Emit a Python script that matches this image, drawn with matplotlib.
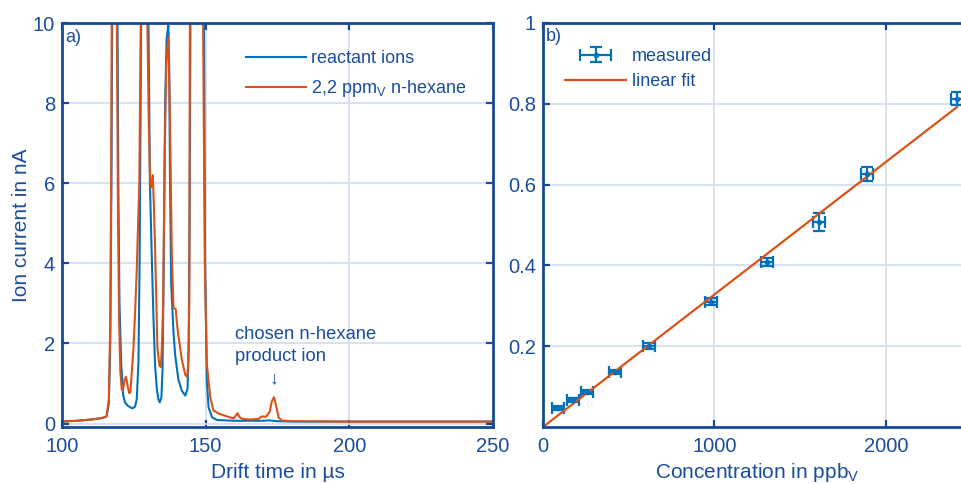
import matplotlib
matplotlib.use('Agg')
import matplotlib.pyplot as plt
from matplotlib.container import ErrorbarContainer
from matplotlib.legend_handler import HandlerErrorbar

plt.rcParams['font.family'] = ['Liberation Sans', 'DejaVu Sans']
plt.rcParams['mathtext.fontset'] = 'custom'
plt.rcParams['mathtext.rm'] = 'Liberation Sans'
plt.rcParams['mathtext.it'] = 'Liberation Sans:italic'

# ---- data: a) drift spectra ----
t_blue = [100, 105, 110, 114, 115.5, 116.3, 116.8, 117.2, 117.5, 118.2, 119.2, 119.6,
          120.0, 120.6, 121.3, 122.0, 123.0, 124.5, 125.4, 126.0, 126.6, 127.0, 127.6,
          128.8, 130.1, 130.6, 131.2, 131.8, 132.4, 133.0, 133.5, 134.0, 134.6, 135.0,
          135.4, 135.9, 136.4, 137.0, 137.3, 137.6, 138.0, 138.8, 139.4, 140.5, 141.7,
          142.9, 143.7, 144.1, 144.4, 144.7, 146.8, 149.4, 149.8, 150.4, 151.0, 152.2,
          153.9, 160, 170, 172, 175, 180, 200, 250]
i_blue = [0.05, 0.07, 0.10, 0.14, 0.18, 0.5, 2.0, 6.0, 10.5, 25, 12, 6.0,
          3.0, 1.5, 0.7, 0.52, 0.44, 0.38, 0.42, 0.6, 1.5, 4.0, 10.5,
          30, 10, 6.0, 4.3, 2.7, 1.44, 0.87, 0.62, 0.53, 0.65, 1.4,
          4.0, 8.0, 9.6, 9.95, 9.0, 6.0, 3.5, 2.27, 1.7, 1.1, 0.82,
          0.7, 0.87, 2.0, 5.0, 10, 40, 10, 4.0, 1.07, 0.41, 0.16,
          0.09, 0.07, 0.07, 0.08, 0.06, 0.05, 0.05, 0.05]

t_orange = [100, 105, 110, 114, 115.5, 116.3, 116.8, 117.1, 117.3, 118.2, 119.1, 119.5,
            119.9, 120.3, 120.8, 121.2, 121.8, 122.3, 122.8, 123.4, 123.8, 124.3, 124.8,
            125.4, 126.0, 126.9, 127.4, 128.6, 129.7, 130.2, 130.6, 131.0, 131.3, 131.6,
            132.0, 132.4, 133.2, 133.9, 134.4, 134.8, 135.2, 135.7, 136.3, 137.0, 137.5,
            138.2, 138.8, 139.6, 140.0, 140.5, 141.7, 142.9, 143.6, 144.0, 144.3, 144.5,
            146.8, 149.1, 149.7, 150.4, 151.6, 152.7, 154.5, 157.4, 159.7, 160.5, 161.1,
            161.7, 162.6, 165.5, 168.4, 169.6, 171.0, 172.3, 173.0, 173.8, 174.5, 175.4,
            176.5, 180, 200, 250]
i_orange = [0.05, 0.07, 0.10, 0.14, 0.18, 0.6, 2.5, 6.0, 10, 25, 10, 5.0,
            2.5, 1.3, 0.85, 0.82, 1.1, 1.17, 0.95, 0.76, 0.78, 1.3, 1.8,
            2.7, 3.8, 6.0, 10, 30, 10, 7.5, 6.2, 5.9, 5.9, 6.2,
            5.4, 4.4, 1.9, 1.45, 1.41, 2.0, 3.0, 6.5, 9.0, 9.66, 8.0,
            4.3, 2.9, 2.85, 2.5, 2.2, 1.6, 1.22, 1.16, 1.6, 3.0, 10,
            40, 10, 4.0, 1.5, 0.66, 0.33, 0.25, 0.18, 0.13, 0.2, 0.26,
            0.17, 0.12, 0.10, 0.12, 0.18, 0.17, 0.3, 0.55, 0.66, 0.45, 0.15,
            0.08, 0.06, 0.05, 0.05]

# ---- data: b) calibration ----
conc = [87, 175, 257, 420, 618, 980, 1306, 1609, 1889, 2414]
current = [0.047, 0.067, 0.087, 0.136, 0.200, 0.310, 0.408, 0.507, 0.626, 0.812]
conc_err = [35, 35, 35, 36, 36, 37, 36, 36, 36, 35]
current_err = [0.004, 0.005, 0.005, 0.006, 0.007, 0.009, 0.010, 0.022, 0.018, 0.016]
fit_x = [0, 2414]
fit_y = [0, 0.792]

txt = '#1a4e9c'
spine = '#174a96'
blue = '#0072BD'
orange = '#D95319'
gridc = '#d3dfee'

fig = plt.figure(figsize=(9.62, 4.84), dpi=100)
ax1 = fig.add_axes([62/962, 57/484, 431/962, 404/484])
ax2 = fig.add_axes([543/962, 57/484, 428.75/962, 404/484])

for ax in (ax1, ax2):
    ax.set_axisbelow(True)
    ax.grid(True, color=gridc, lw=1.3)
    for s in ax.spines.values():
        s.set_color(spine)
        s.set_linewidth(2)
    ax.tick_params(direction='in', top=True, right=True, length=5, width=1.6,
                   color=spine, labelcolor=txt, labelsize=14.5, pad=5)
    ax.tick_params(axis='x', pad=7)

# a)
ax1.plot(t_blue, i_blue, color=blue, lw=1.5, label='reactant ions')
ax1.plot(t_orange, i_orange, color=orange, lw=1.5, label=r'2,2 ppm$_\mathrm{V}$ n-hexane')
ax1.set_xlim(100, 250)
ax1.set_ylim(-0.085, 10)
ax1.set_xticks([100, 150, 200, 250])
ax1.set_yticks([0, 2, 4, 6, 8, 10])
ax1.set_xlabel('Drift time in µs', color=txt, fontsize=15, labelpad=5)
ax1.set_ylabel('Ion current in nA', color=txt, fontsize=15, labelpad=1)
ax1.text(0.008, 0.985, 'a)', transform=ax1.transAxes, color=txt, fontsize=13,
         ha='left', va='top')
ax1.text(160.2, 1.95, 'chosen n-hexane\nproduct ion', color=txt, fontsize=13.2,
         ha='left', va='center', linespacing=1.35)
ax1.text(173.7, 1.12, '↓', color=txt, fontsize=13, ha='center', va='center')
ax1.legend(loc='upper left', bbox_to_anchor=((246-62)/431, (427-50)/404),
           frameon=False, fontsize=13, labelcolor=txt, handlelength=3.3,
           handletextpad=0.3, labelspacing=0.62, borderpad=0, borderaxespad=0)

# b)
eb = ax2.errorbar(conc, current, xerr=conc_err, yerr=current_err, fmt='.', color=blue,
                  ms=6, elinewidth=1.6, capsize=4.5, capthick=1.6)
fit, = ax2.plot(fit_x, fit_y, color=orange, lw=1.6)
ax2.set_xlim(0, 2500)
ax2.set_ylim(0, 1)
ax2.set_xticks([0, 1000, 2000])
ax2.set_yticks([0.2, 0.4, 0.6, 0.8, 1])
ax2.set_yticklabels(['0.2', '0.4', '0.6', '0.8', '1'])
ax2.set_xlabel(r'Concentration in ppb$_\mathrm{V}$', color=txt, fontsize=15, labelpad=4)
ax2.text(0.006, 0.988, 'b)', transform=ax2.transAxes, color=txt, fontsize=13,
         ha='left', va='top')
ax2.legend([eb, fit], ['measured', 'linear fit'], loc='upper left',
           bbox_to_anchor=((565-543)/428.75, (427-48)/404),
           frameon=False, fontsize=13, labelcolor=txt, handlelength=3.4,
           handletextpad=0.3, labelspacing=0.45, borderpad=0, borderaxespad=0,
           handler_map={ErrorbarContainer: HandlerErrorbar(xerr_size=0.85, yerr_size=0.4)})

fig.savefig('out.png', dpi=100)
